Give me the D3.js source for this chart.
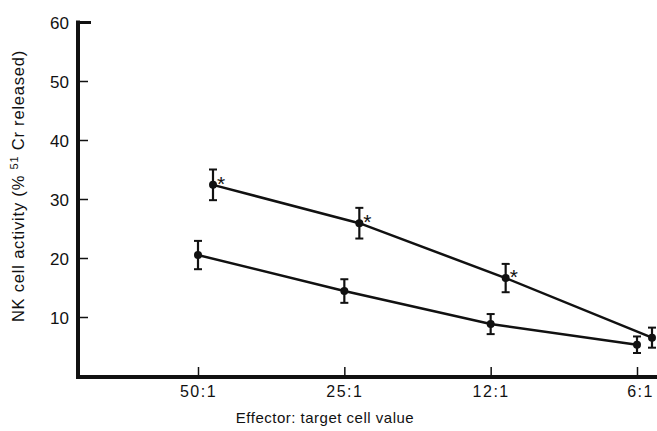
<!DOCTYPE html>
<html>
<head>
<meta charset="utf-8">
<script src="https://cdn.jsdelivr.net/npm/d3@7"></script>
<style>
  body { margin: 0; background: #fff; }
  svg text { font-family: "Liberation Sans", Arial, sans-serif; fill: #111; }
</style>
</head>
<body>
<svg id="chart"></svg>
<script>
// data
const ratios = ["50:1", "25:1", "12:1", "6:1"];
const treated = [32.4, 25.9, 16.6, 6.5];       // upper line, marked *
const treatedErr = [2.6, 2.6, 2.4, 1.7];
const treatedStar = [true, true, true, false];
const control = [20.5, 14.4, 8.8, 5.3];
const controlErr = [2.4, 2.0, 1.7, 1.4];
const yTicks = [10, 20, 30, 40, 50, 60];

const width = 657, height = 431;
const margin = { top: 22, right: 0, bottom: 55, left: 78 };

const svg = d3.select("#chart").attr("width", width).attr("height", height);

const x = d3.scalePoint().domain(ratios).range([198, 637]);
const y = d3.scaleLinear().domain([0, 60]).range([height - margin.bottom, margin.top]);

// y axis
const yAxis = svg.append("g")
  .attr("transform", "translate(" + margin.left + ",0)")
  .call(d3.axisLeft(y).tickValues(yTicks).tickSize(-10).tickPadding(9).tickSizeOuter(0));
yAxis.select(".domain").remove();
yAxis.selectAll(".tick line").attr("stroke", "#111").attr("stroke-width", 1.5);
yAxis.selectAll(".tick text").attr("font-size", 17).attr("dy", "0.36em");
yAxis.selectAll(".tick").filter(d => d === 60).select("line")
  .attr("x2", 13).attr("stroke-width", 3);
svg.append("line")
  .attr("x1", margin.left).attr("x2", margin.left)
  .attr("y1", y(60) - 1.5).attr("y2", y(0) + 2)
  .attr("stroke", "#111").attr("stroke-width", 4);

// x axis
const xAxis = svg.append("g")
  .attr("transform", "translate(0," + (y(0) + 1) + ")")
  .call(d3.axisBottom(x).tickSize(-10).tickPadding(9).tickSizeOuter(0));
xAxis.select(".domain").remove();
xAxis.selectAll(".tick line").attr("stroke", "#111").attr("stroke-width", 1.5);
xAxis.selectAll(".tick text").attr("font-size", 16).attr("letter-spacing", 1.5)
  .attr("dx", (d, i) => i === 3 ? 3 : 0);
svg.append("line")
  .attr("x1", margin.left - 2).attr("x2", width)
  .attr("y1", y(0) + 1).attr("y2", y(0) + 1)
  .attr("stroke", "#111").attr("stroke-width", 4);

// series
function drawSeries(vals, errs, dx) {
  const pts = vals.map((v, i) => ({ r: ratios[i], v: v, e: errs[i] }));
  const px = d => x(d.r) + dx;
  svg.append("path")
    .datum(pts)
    .attr("fill", "none").attr("stroke", "#111").attr("stroke-width", 2.5)
    .attr("d", d3.line().x(px).y(d => y(d.v)));
  const g = svg.append("g").selectAll("g").data(pts).join("g");
  g.append("line")
    .attr("x1", px).attr("x2", px)
    .attr("y1", d => y(d.v + d.e)).attr("y2", d => y(d.v - d.e))
    .attr("stroke", "#111").attr("stroke-width", 2.2);
  g.append("line")
    .attr("x1", d => px(d) - 4).attr("x2", d => px(d) + 4)
    .attr("y1", d => y(d.v + d.e)).attr("y2", d => y(d.v + d.e))
    .attr("stroke", "#111").attr("stroke-width", 2);
  g.append("line")
    .attr("x1", d => px(d) - 4).attr("x2", d => px(d) + 4)
    .attr("y1", d => y(d.v - d.e)).attr("y2", d => y(d.v - d.e))
    .attr("stroke", "#111").attr("stroke-width", 2);
  g.append("circle")
    .attr("cx", px).attr("cy", d => y(d.v)).attr("r", 4).attr("fill", "#111");
  return px;
}

drawSeries(control, controlErr, 0);
const upX = drawSeries(treated, treatedErr, 15);

svg.append("g").selectAll("text")
  .data(treated.map((v, i) => ({ r: ratios[i], v: v, star: treatedStar[i] })).filter(d => d.star))
  .join("text")
  .attr("x", d => upX(d) + 4)
  .attr("y", d => y(d.v) + 6)
  .attr("font-size", 21)
  .text("*");

// axis titles
svg.append("text")
  .attr("x", 325).attr("y", 423)
  .attr("text-anchor", "middle").attr("font-size", 15).attr("letter-spacing", 0.5)
  .text("Effector: target cell value");

const yt = svg.append("text")
  .attr("transform", "translate(24,186) rotate(-90)")
  .attr("text-anchor", "middle").attr("font-size", 16.5).attr("letter-spacing", 0.8);
yt.append("tspan").text("NK cell activity (% ");
yt.append("tspan").attr("font-size", 11).attr("dy", -6).text("51");
yt.append("tspan").attr("dy", 6).text(" Cr released)");
</script>
</body>
</html>
